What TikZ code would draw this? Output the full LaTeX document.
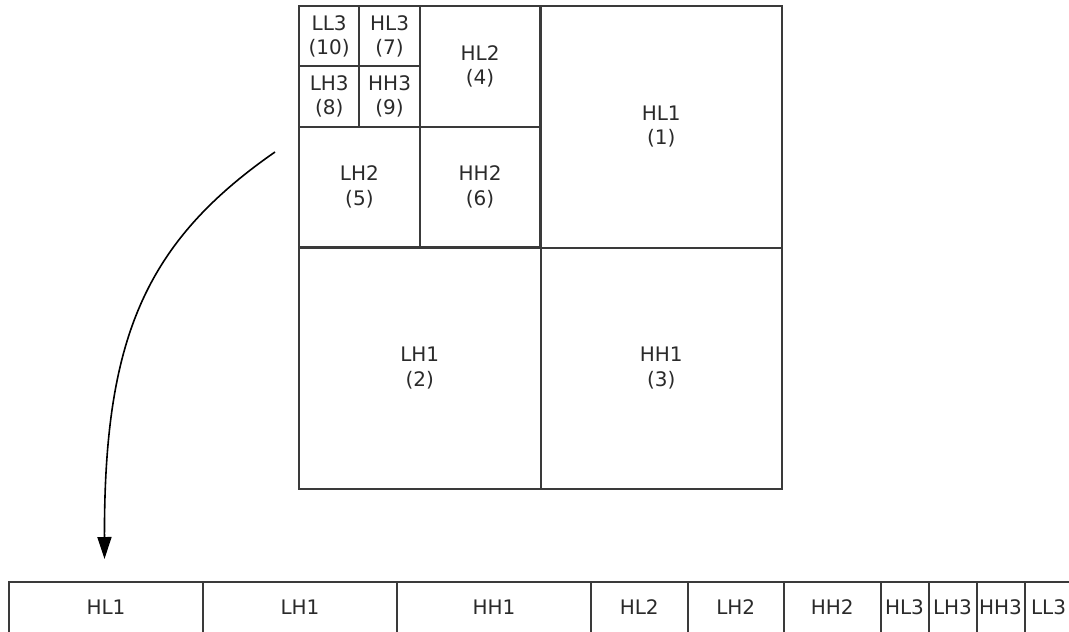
\documentclass[tikz,border=0pt]{standalone}
\usepackage{fontspec}
\setmainfont{DejaVu Sans}
\usetikzlibrary{arrows.meta}
\definecolor{linec}{HTML}{3A3A3A}
\definecolor{textc}{HTML}{2A2A2A}
\tikzset{
  cell/.style={draw=linec, line width=2pt, rectangle, inner sep=0pt, align=center,
    text=textc, font=\fontsize{20}{24.5}\selectfont},
  bigcell/.style={cell, minimum width=241.5pt, minimum height=241.5pt},
  midcell/.style={cell, minimum width=120.75pt, minimum height=120.75pt},
  smallcell/.style={cell, minimum width=60.4pt, minimum height=60.4pt},
  stripcell/.style={cell, minimum height=51pt},
  flow/.style={draw=black, line width=1.6pt, -{Triangle[length=22pt,width=14pt]}}
}
\begin{document}
\begin{tikzpicture}[x=1pt,y=-1pt]
\useasboundingbox (0,0) rectangle (1069,632);
% quad-tree decomposition
\node[bigcell] (hl1) at (661.25,126.75) {HL1\\(1)};
\node[bigcell] (lh1) at (419.75,368.25) {LH1\\(2)};
\node[bigcell] (hh1) at (661.25,368.25) {HH1\\(3)};
\node[midcell] (hl2) at (480.1,66.4) {HL2\\(4)};
\node[midcell] (lh2) at (359.4,187.1) {LH2\\(5)};
\node[midcell] (hh2) at (480.1,187.1) {HH2\\(6)};
\node[smallcell] (ll3) at (329.2,36.2) {LL3\\(10)};
\node[smallcell] (hl3) at (389.6,36.2) {HL3\\(7)};
\node[smallcell] (lh3) at (329.2,96.6) {LH3\\(8)};
\node[smallcell] (hh3) at (389.6,96.6) {HH3\\(9)};
% linear strip
\node[stripcell, minimum width=194pt] (shl1) at (106,607.5) {HL1};
\node[stripcell, minimum width=194pt] (slh1) at (300,607.5) {LH1};
\node[stripcell, minimum width=194pt] (shh1) at (494,607.5) {HH1};
\node[stripcell, minimum width=96.5pt] (shl2) at (639.25,607.5) {HL2};
\node[stripcell, minimum width=96.5pt] (slh2) at (735.75,607.5) {LH2};
\node[stripcell, minimum width=96.5pt] (shh2) at (832.25,607.5) {HH2};
\node[stripcell, minimum width=48pt] (shl3) at (904.5,607.5) {HL3};
\node[stripcell, minimum width=48pt] (slh3) at (952.5,607.5) {LH3};
\node[stripcell, minimum width=48pt] (shh3) at (1000.5,607.5) {HH3};
\node[stripcell, minimum width=48pt] (sll3) at (1048.5,607.5) {LL3};
% arrow
\coordinate (astart) at (275,152);
\coordinate (aend) at (104.5,559);
\draw[flow] (astart) .. controls (144,243) and (104,340) .. (aend);
\end{tikzpicture}
\end{document}
